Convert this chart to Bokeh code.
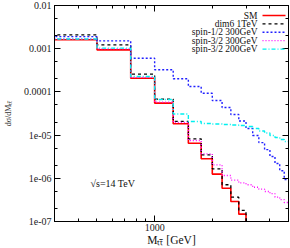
import math
from bokeh.plotting import figure
from bokeh.models import (Range1d, LogAxis, FixedTicker, CustomJSTickFormatter,
                          Label, Arrow)
from bokeh.embed import file_html
from bokeh.resources import INLINE

# ---------------- data ----------------
bin_edges = [250, 500, 750, 1000, 1250, 1500, 1750, 2000, 2250, 2500, 2750,
             3000, 3250, 3500, 3750, 4000, 4250, 4500, 4750, 5000]

sm = [1.61e-3, 9.4e-4, 2.07e-4, 5.5e-5, 1.83e-5, 6.5e-6, 2.83e-6, 1.25e-6,
      5.9e-7, 2.9e-7, 1.48e-7]
dim6_1tev = [2.09e-3, 1.23e-3, 2.57e-4, 6.8e-5, 2.07e-5, 8.2e-6, 3.5e-6,
             1.66e-6, 7.1e-7, 3.66e-7, 1.8e-7]
spin12_300 = [1.9e-3, 1.52e-3, 6.0e-4, 3.25e-4, 2.01e-4, 1.33e-4, 9.3e-5,
              6.3e-5, 4.35e-5, 3.0e-5, 2.12e-5, 1.42e-5, 9.8e-6, 6.7e-6,
              4.6e-6, 3.2e-6, 2.2e-6, 1.5e-6, 9.4e-7]
spin32_300 = [1.68e-3, 9.9e-4, 2.16e-4, 5.8e-5, 1.96e-5, 7.5e-6, 3.69e-6,
              2.05e-6, 1.16e-6, 9.1e-7, 7.8e-7, 7.1e-7, 6.2e-7, 5.6e-7,
              4.95e-7, 4.4e-7, 3.65e-7, 3.2e-7, 2.75e-7]
spin32_200 = [1.68e-3, 1.03e-3, 2.27e-4, 6.67e-5, 3.08e-5, 2.07e-5, 1.86e-5,
              1.81e-5, 1.76e-5, 1.71e-5, 1.67e-5, 1.58e-5, 1.42e-5, 1.24e-5,
              1.12e-5, 9.8e-6, 8.8e-6, 7.9e-6, 7.1e-6]

series_labels = ["SM", "dim6 1TeV", "spin-1/2 300GeV", "spin-3/2 300GeV",
                 "spin-3/2 200GeV"]

y_ticks = [1e-7, 1e-6, 1e-5, 1e-4, 1e-3, 1e-2]
y_tick_labels = ["1e-07", "1e-06", "1e-05", "0.0001", "0.001", "0.01"]
y_minor = [m * t for t in y_ticks[:-1] for m in (2, 5)]
x_ticks = [1000]
x_tick_labels = ["1000"]
x_minor = [300, 400, 500, 600, 700, 800, 900, 2000, 3000, 4000, 5000]

x_lo, x_hi = 300, 5000
y_lo, y_hi = 1e-7, 1e-2

# ---------------- styles ----------------
FONT = "Liberation Serif"
styles = [
    dict(line_color="#ff0000", line_width=1.6, line_dash="solid"),
    dict(line_color="#000000", line_width=1.3, line_dash="3 3"),
    dict(line_color="#2020ff", line_width=1.4, line_dash="2 2"),
    dict(line_color="#ff00ff", line_width=1.3, line_dash="1 2"),
    dict(line_color="#00f0f0", line_width=1.4, line_dash="4 2 1 2"),
]

p = figure(width=290, height=248, x_axis_type="log", y_axis_type="log",
           x_range=Range1d(x_lo, x_hi), y_range=Range1d(y_lo, y_hi),
           output_backend="svg", toolbar_location=None,
           min_border_left=47, min_border_right=2, min_border_top=5,
           min_border_bottom=27)
p.grid.visible = False
p.outline_line_color = "black"
p.background_fill_color = "white"


def fmt(vals, labs):
    return CustomJSTickFormatter(args=dict(vals=vals, labs=labs), code="""
for (let i = 0; i < vals.length; i++) {
  if (Math.abs(Math.log10(vals[i]) - Math.log10(tick)) < 1e-6) return labs[i];
}
return " ";
""")


def style_axis(ax, labels=True):
    ax.major_tick_in = 6
    ax.major_tick_out = 0
    ax.minor_tick_in = 3
    ax.minor_tick_out = 0
    ax.axis_line_color = "black"
    ax.major_tick_line_color = "black"
    ax.minor_tick_line_color = "black"
    ax.major_label_text_font = FONT
    ax.major_label_text_color = "#222222"
    if labels:
        ax.major_label_text_font_size = "10px"
        ax.major_label_standoff = 3
    else:
        ax.major_label_text_font_size = "1px"
        ax.major_label_text_alpha = 0
        ax.major_label_standoff = 0


xt = FixedTicker(ticks=x_ticks, minor_ticks=x_minor)
yt = FixedTicker(ticks=y_ticks, minor_ticks=y_minor)

xa = p.xaxis[0]
xa.ticker = xt
xa.formatter = fmt(x_ticks, x_tick_labels)
style_axis(xa)
xa.major_label_standoff = 2
xa.axis_label = "M\u209c\u209c\u0304 [GeV]"
xa.axis_label_text_font = FONT
xa.axis_label_text_font_style = "normal"
xa.axis_label_text_font_size = "11.5px"
xa.axis_label_text_color = "#111111"
xa.axis_label_standoff = 0

ya = p.yaxis[0]
ya.ticker = yt
ya.formatter = fmt(y_ticks, y_tick_labels)
style_axis(ya)
ya.axis_label = "d\u03c3/dM\u209c\u209c\u0304"
ya.axis_label_text_font = FONT
ya.axis_label_text_font_style = "normal"
ya.axis_label_text_font_size = "8px"
ya.axis_label_text_color = "#333333"
ya.axis_label_standoff = 8

top = LogAxis(ticker=FixedTicker(ticks=x_ticks, minor_ticks=x_minor),
              formatter=fmt(x_ticks, x_tick_labels))
style_axis(top, labels=False)
p.add_layout(top, "above")
right = LogAxis(ticker=FixedTicker(ticks=y_ticks, minor_ticks=y_minor),
                formatter=fmt(y_ticks, y_tick_labels))
style_axis(right, labels=False)
p.add_layout(right, "right")

# ---------------- histograms ----------------
floor = y_lo / 100.0
all_series = [sm, dim6_1tev, spin12_300, spin32_300, spin32_200]
for vals, st in zip(all_series, styles):
    n = len(vals)
    xs = bin_edges[:n + 1]
    last = floor if bin_edges[n] < x_hi else vals[-1]
    ys = list(vals) + [last]
    p.step(x=xs, y=ys, mode="after", **st)

# ---------------- legend (text right-aligned, sample on the right) ------
leg_text_x = 203
leg_s0, leg_s1 = 208, 231
leg_y0, leg_dy = 206, 8.4
for i, (lab, st) in enumerate(zip(series_labels, styles)):
    yy = leg_y0 - i * leg_dy
    p.add_layout(Label(x=leg_text_x, y=yy, x_units="screen", y_units="screen",
                       text=lab, text_align="right", text_baseline="middle",
                       text_font=FONT, text_font_size="9.5px",
                       text_color="#111111"))
    p.add_layout(Arrow(end=None, x_start=leg_s0, y_start=yy, x_end=leg_s1,
                       y_end=yy, start_units="screen", end_units="screen",
                       **st))

# ---------------- annotations ----------------
p.add_layout(Label(x=36, y=38, x_units="screen", y_units="screen",
                   text="\u221as=14 TeV", text_baseline="middle",
                   text_font=FONT, text_font_size="10px", text_color="#111111"))

open("out.html", "w").write(file_html(p, INLINE))
